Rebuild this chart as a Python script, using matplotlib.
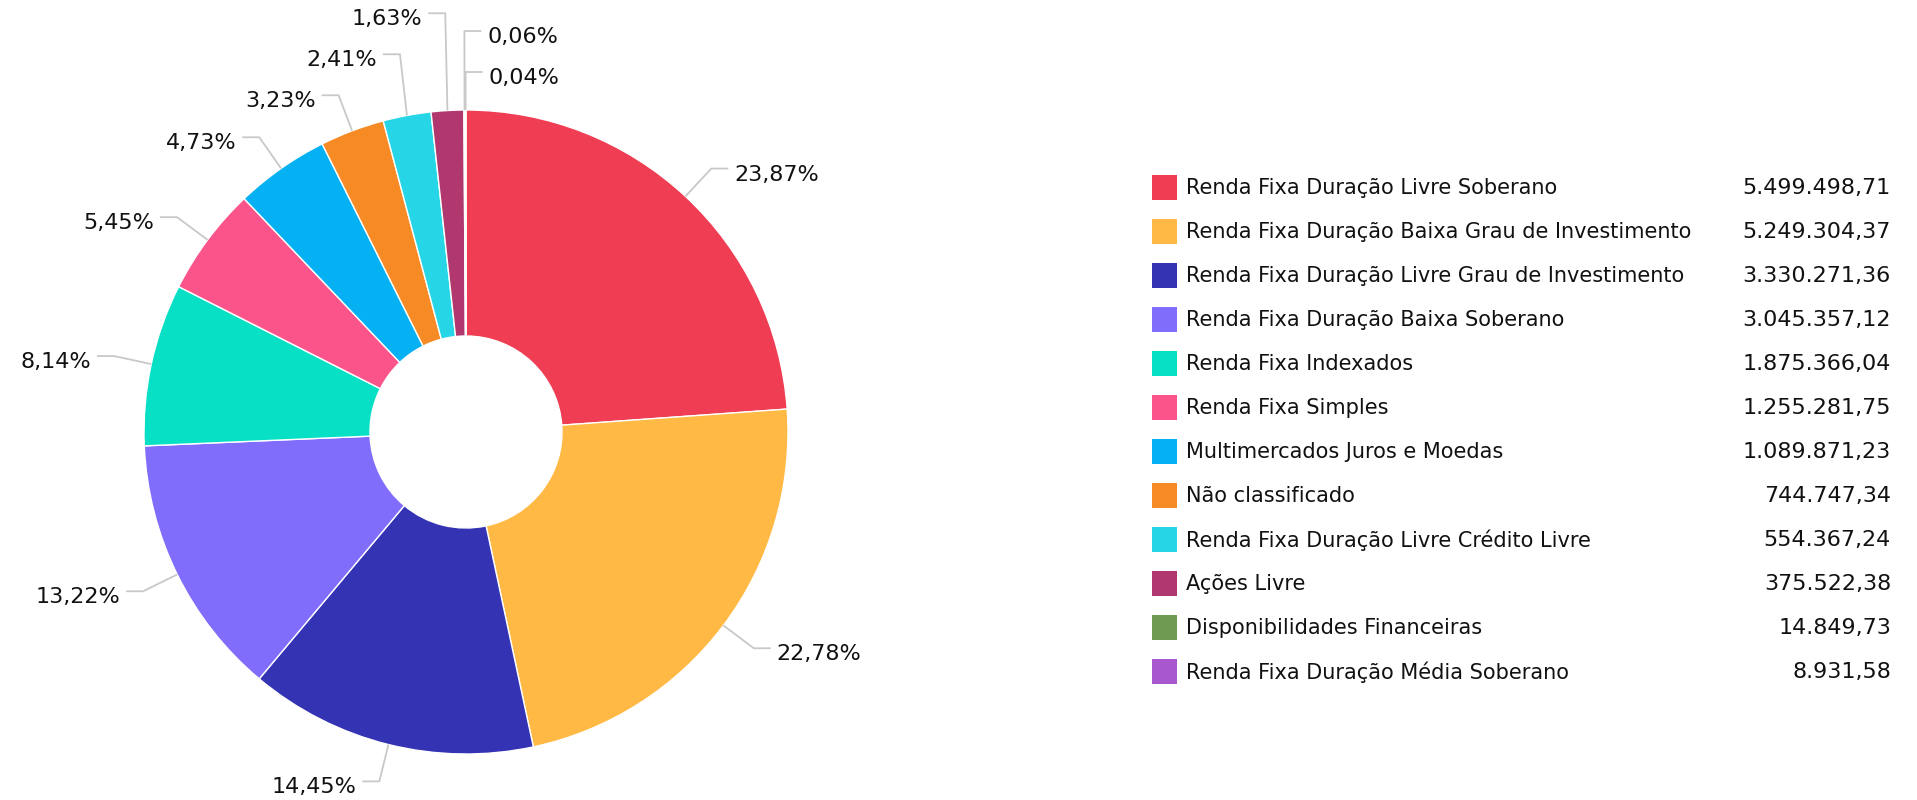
import numpy as np
import matplotlib.pyplot as plt
from matplotlib.patches import Rectangle

plt.rcParams['font.family'] = ['DejaVu Sans']

categories = [
    "Renda Fixa Duração Livre Soberano",
    "Renda Fixa Duração Baixa Grau de Investimento",
    "Renda Fixa Duração Livre Grau de Investimento",
    "Renda Fixa Duração Baixa Soberano",
    "Renda Fixa Indexados",
    "Renda Fixa Simples",
    "Multimercados Juros e Moedas",
    "Não classificado",
    "Renda Fixa Duração Livre Crédito Livre",
    "Ações Livre",
    "Disponibilidades Financeiras",
    "Renda Fixa Duração Média Soberano",
]
values = [5499498.71, 5249304.37, 3330271.36, 3045357.12, 1875366.04, 1255281.75,
          1089871.23, 744747.34, 554367.24, 375522.38, 14849.73, 8931.58]
colors = ["#ef3d53", "#ffb944", "#3333b3", "#816dfb", "#07e0c5", "#fa548b",
          "#05b1f3", "#f68b26", "#27d6e6", "#b0386f", "#6f9a51", "#a857cf"]


def br_num(v):
    s = f"{v:,.2f}"
    return s.replace(",", "X").replace(".", ",").replace("X", ".")


W, H = 1917, 800
fig = plt.figure(figsize=(W / 100, H / 100), dpi=100)
ax = fig.add_axes([0, 0, 1, 1])

# pie geometry in pixel units (y up)
cx, cy = 466, H - 432
r, r_in = 322, 96
r_label = 360
gap = 41
fs = 16

wedges, _ = ax.pie(values, colors=colors, startangle=90, counterclock=False,
                   radius=r, center=(cx, cy),
                   wedgeprops=dict(width=r - r_in, edgecolor="white", linewidth=1))
ax.set_xlim(0, W)
ax.set_ylim(0, H)
ax.set_aspect("equal")
ax.axis("off")

total = sum(values)
items = []
for w, v in zip(wedges, values):
    mid = np.deg2rad((w.theta1 + w.theta2) / 2)
    phi = (90 - np.rad2deg(mid)) % 360  # clockwise from top
    right = np.cos(mid) > -0.01
    items.append(dict(mid=mid, phi=phi, right=right,
                      y=cy + r_label * np.sin(mid),
                      txt=f"{100 * v / total:.2f}".replace(".", ",") + "%"))

# spread labels vertically on each side so they don't overlap
for side in (True, False):
    grp = [it for it in items if it["right"] == side]
    if side:
        grp.sort(key=lambda it: it["phi"] - 360 if it["phi"] > 180 else it["phi"])
    else:
        grp.sort(key=lambda it: -it["phi"])
    for i in range(len(grp) - 2, -1, -1):
        grp[i]["y"] = max(grp[i]["y"], grp[i + 1]["y"] + gap)

for it in items:
    a = it["mid"]
    sgn = 1 if it["right"] else -1
    ex = cx + r_label * np.cos(a)
    ey = it["y"]
    ax.plot([cx + r * np.cos(a), ex, ex + sgn * 17], [cy + r * np.sin(a), ey, ey],
            color="#c8c8c8", lw=1.3, solid_capstyle="butt", zorder=1)
    ax.text(ex + sgn * 23, ey - 6, it["txt"], ha="left" if it["right"] else "right",
            va="center", fontsize=fs, color="#111111")

# legend
for i, (name, v, c) in enumerate(zip(categories, values, colors)):
    y = H - (187 + 44 * i)
    ax.add_patch(Rectangle((1152, y - 12.5), 25, 25, facecolor=c, edgecolor="none"))
    ax.text(1186, y - 1, name, ha="left", va="center", fontsize=15, color="#111111")
    ax.text(1891, y - 1, br_num(v), ha="right", va="center", fontsize=fs, color="#111111")

fig.savefig("out.png", dpi=100, facecolor="white")
